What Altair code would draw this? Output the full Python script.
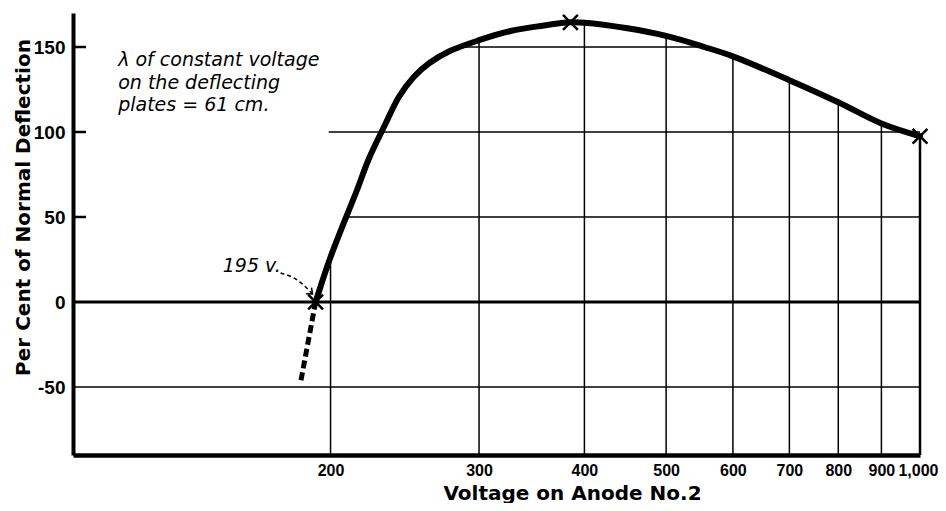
import altair as alt
import pandas as pd

# ---- data ----
XMIN, XMAX = 99, 1000
YMIN, YMAX = -90, 170

curve_v = [192, 197, 200, 208, 215, 222, 232, 241, 251, 262, 277, 300, 327, 355, 385,
           400, 450, 500, 555, 600, 700, 800, 900, 1000]
curve_pct = [0, 17.1, 26.5, 48.2, 65.9, 84.1, 104.1, 120.6, 132.4, 140.6, 147.6, 154, 159.4, 162.4, 164.5,
             164.3, 161, 156.5, 150, 144.5, 130.5, 117.5, 105, 97.5]

dash_v = [192, 184.5]
dash_pct = [0, -46]

mark_v = [192, 385, 1000]
mark_pct = [0, 164.5, 97.5]

grid_v = [200, 300, 400, 500, 600, 700, 800, 900, 1000]
grid_w = [1.5, 1.5, 1.5, 1.5, 1.5, 1.5, 1.5, 1.5, 2.5]

hgrid_pct = [150, 100, 50, 0, -50]
hgrid_from = [285, 199, 209, XMIN, XMIN]
hgrid_to = [555, 1000, 1000, 1000, 1000]
hgrid_w = [1.5, 1.5, 1.5, 3, 1.5]

tick_pct = [150, 100, 50]
y_labels = [-50, 0, 50, 100, 150]

note_lines = ["λ of constant voltage", "on the deflecting", "plates = 61 cm."]
note_v, note_pct = 112, 138.8

label_195 = "195 v."
label_v, label_pct = 149, 17.6
arrow_v = [174.5, 183.3, 190.4]
arrow_pct = [17.1, 12.4, 4.7]

x_title = "Voltage on Anode No.2"
y_title = "Per Cent of Normal Deflection"

FONT = "DejaVu Sans"
LABEL = "Liberation Sans, sans-serif"

# ---- tables ----
curve_df = pd.DataFrame({"v": curve_v, "pct": curve_pct})
dash_df = pd.DataFrame({"v": dash_v, "pct": dash_pct})
mark_df = pd.DataFrame({"v": mark_v, "pct": mark_pct})
top_lookup = dict(zip(curve_v, curve_pct))
vgrid_df = pd.DataFrame({"v": grid_v, "top": [top_lookup[g] for g in grid_v], "w": grid_w})
hgrid_df = pd.DataFrame({"v_from": hgrid_from, "v_to": hgrid_to, "pct": hgrid_pct, "w": hgrid_w})
tick_df = pd.DataFrame({"pct": tick_pct})
arrow_df = pd.DataFrame({"v": arrow_v, "pct": arrow_pct, "o": [0, 1, 2]})
arrowhead_df = pd.DataFrame({"v": [arrow_v[-1]], "pct": [arrow_pct[-1]]})
note_df = pd.DataFrame({"v": [note_v], "pct": [note_pct]})
lab_df = pd.DataFrame({"v": [label_v], "pct": [label_pct]})

xs = alt.Scale(type="log", domain=[XMIN, XMAX], nice=False)
ys = alt.Scale(domain=[YMIN, YMAX], nice=False, zero=False)

xaxis = alt.Axis(values=grid_v, format=",d", title=x_title, grid=False, ticks=False,
                 domainWidth=4.5, domainColor="black", labelColor="black",
                 labelFont=LABEL, labelFontSize=16, labelFontWeight="bold", labelPadding=7,
                 labelFlush=True, labelFlushOffset=18, labelOverlap=False,
                 titleFont=FONT, titleFontSize=20, titleFontWeight="bold", titleColor="black",
                 titleX=499, titleY=28)
yaxis = alt.Axis(values=y_labels, labelExpr="'' + datum.value", title=y_title, grid=False, ticks=False,
                 domainWidth=4, domainColor="black", labelColor="black",
                 labelFont=LABEL, labelFontSize=19, labelFontWeight="bold", labelPadding=8,
                 titleFont=FONT, titleFontSize=20, titleFontWeight="bold", titleColor="black",
                 titleX=-40, titleY=194)


def X(field):
    return alt.X(field, scale=xs, axis=xaxis)


def Y(field):
    return alt.Y(field, scale=ys, axis=yaxis)


hgrid = alt.Chart(hgrid_df).mark_rule(color="black").encode(
    x=X("v_from:Q"), x2="v_to:Q", y=Y("pct:Q"),
    strokeWidth=alt.StrokeWidth("w:Q", scale=None, legend=None))

vgrid = alt.Chart(vgrid_df).mark_rule(color="black").encode(
    x=X("v:Q"), y=Y("top:Q"), y2=alt.datum(YMIN),
    strokeWidth=alt.StrokeWidth("w:Q", scale=None, legend=None))

yticks = alt.Chart(tick_df).mark_rule(color="black", strokeWidth=2.5).encode(
    x=alt.value(0), x2=alt.value(13), y=Y("pct:Q"))

curve = alt.Chart(curve_df).mark_line(color="black", strokeWidth=6, interpolate="catmull-rom",
                                      strokeCap="round").encode(x=X("v:Q"), y=Y("pct:Q"))

dash = alt.Chart(dash_df).mark_line(color="black", strokeWidth=5, strokeDash=[8, 4]).encode(
    x=X("v:Q"), y=Y("pct:Q"))

marks = alt.Chart(mark_df).mark_point(shape="M-1,-1L1,1M-1,1L1,-1", filled=False, color="black",
                                      strokeWidth=2.5, size=220, opacity=1).encode(
    x=X("v:Q"), y=Y("pct:Q"))

note = alt.Chart(note_df).mark_text(
    text=note_lines, align="left", baseline="alphabetic", font=FONT, fontSize=19,
    fontStyle="italic", lineHeight=22.5, color="black").encode(x=X("v:Q"), y=Y("pct:Q"))

lab195 = alt.Chart(lab_df).mark_text(
    text=label_195, align="left", baseline="alphabetic", font=FONT, fontSize=19,
    fontStyle="italic", color="black").encode(x=X("v:Q"), y=Y("pct:Q"))

arrow = alt.Chart(arrow_df).mark_line(color="black", strokeWidth=1.5, strokeDash=[4, 3],
                                      interpolate="monotone").encode(
    x=X("v:Q"), y=Y("pct:Q"), order="o:Q")

arrowhead = alt.Chart(arrowhead_df).mark_point(shape="M-1,-0.8L0,0L-1,0.8", filled=False,
                                               color="black", strokeWidth=1.5, size=100,
                                               angle=42, opacity=1).encode(
    x=X("v:Q"), y=Y("pct:Q"))

chart = alt.layer(hgrid, vgrid, yticks, curve, dash, marks, note, lab195, arrow, arrowhead).properties(
    width=847, height=442,
    autosize=alt.AutoSizeParams(type="none"),
    padding={"left": 65, "top": 5, "right": 18, "bottom": 48},
    background="white",
).configure_view(stroke=None)

chart.save("out.html", embed_options={"renderer": "svg", "actions": False})
